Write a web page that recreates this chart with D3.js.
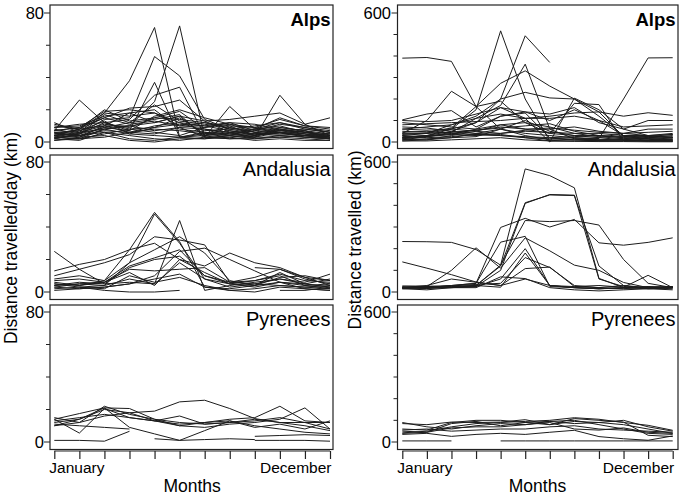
<!DOCTYPE html>
<html><head><meta charset="utf-8">
<script src="https://cdn.jsdelivr.net/npm/d3@7"></script>
<style>body{margin:0;background:#fff}svg{display:block}text{font-family:"Liberation Sans",Arial,sans-serif;fill:#000}</style>
</head><body><svg id="c" width="683" height="497"></svg>
<script>
const months = [1,2,3,4,5,6,7,8,9,10,11,12];
const monthLabels = ["January","December"];
const regions = ["Alps","Andalusia","Pyrenees"];
const yTitles = ["Distance travelled/day (km)","Distance travelled (km)"];
const xTitle = "Months";
const dayMax = 80, totMax = 600;
const _ = null;

const alpsDay = [
 [5,8,18,38,71,3,6,4,8,6,4,3],
 [3,6,10,10,25,72,3,5,3,9,7,2],
 [4,5,14,15,53,41,14,8,5,6,5,3],
 [6,4,9,7,37,3,5,10,4,7,6,4],
 [2,5,12,14,29,34,4,9,6,8,5,2],
 [7,9,15,21,22,26,13,6,8,12,9,6],
 [7,26,12,8,9,11,10,7,5,4,3,2],
 [3,2,8,5,4,3,4,6,3,29,11,4],
 [4,6,8,10,7,9,3,22,8,10,6,3],
 [9,10,16,18,12,16,13,14,16,18,11,15],
 [10,8,20,13,15,14,12,10,9,14,10,8],
 [12,6,18,16,18,12,10,12,7,11,9,7],
 [2,1,6,2,1,3,2,3,1,2,1,1],
 [1,3,4,1,0,2,2,4,2,3,4,2],
 [5,7,11,9,15,19,8,6,5,5,4,5],
 [3,4,7,6,10,12,7,8,10,12,8,6],
 [8,5,17,12,23,13,11,9,6,7,5,4],
 [4,3,10,18,20,8,6,5,7,9,7,5],
 [6,7,13,5,9,15,5,7,4,6,3,2],
 [11,8,15,11,13,10,12,8,8,15,10,9],
 [2,5,9,12,14,17,3,2,3,3,2,1],
 [3,2,5,8,6,4,9,11,6,5,7,3],
 [5,4,6,4,2,1,3,2,2,4,3,2],
 [7,9,19,20,18,10,9,12,11,8,6,5],
 [1,2,3,6,8,7,5,4,3,6,4,2],
 [9,11,12,7,16,20,15,11,9,7,8,6],
 [4,8,10,6,5,9,8,5,4,8,6,4],
 [6,3,8,10,12,16,4,3,5,6,4,3]
];
const alpsTot = [
 [390,393,375,165,60,40,30,20,16,200,391,392],
 [30,40,60,150,517,200,5,15,10,8,6,5],
 [20,30,50,90,200,494,370,_,_,_,_,_],
 [10,25,45,110,170,362,60,15,8,10,5,3],
 [50,45,65,165,273,331,260,200,120,30,25,20],
 [35,40,80,120,200,231,205,200,140,25,15,10],
 [103,130,146,70,120,140,100,150,100,30,20,25],
 [40,100,236,165,190,90,40,180,174,5,8,6],
 [60,70,80,110,130,110,120,135,140,120,136,124],
 [100,95,100,130,160,140,130,160,90,60,100,100],
 [80,85,90,95,100,110,110,120,100,70,75,80],
 [20,30,60,90,160,110,0,204,150,60,30,20],
 [10,15,20,40,60,100,50,30,20,10,8,10],
 [5,10,30,50,80,90,70,40,25,15,10,20],
 [60,55,60,50,40,50,45,40,40,30,30,35],
 [30,20,25,35,30,25,20,25,30,20,15,10],
 [15,10,20,25,60,30,10,10,5,5,3,5],
 [45,50,40,55,70,60,65,55,45,40,45,50],
 [70,65,50,40,35,20,5,5,8,10,20,30],
 [20,25,35,60,120,135,20,10,20,40,60,60],
 [5,5,10,15,20,10,5,3,2,2,1,1],
 [25,30,35,30,40,55,60,70,50,40,30,20],
 [40,40,45,55,65,75,85,50,30,20,15,15],
 [15,25,40,35,30,20,15,20,10,15,25,35],
 [90,80,70,60,80,60,40,30,30,25,30,40]
];
const andDay = [
 [25,14,5,6,5,18,8,3,5,4,3,4],
 [6,4,7,26,49,31,3,2,4,6,5,3],
 [3,5,4,18,48,30,8,5,7,10,4,2],
 [5,3,4,8,5,44,1,4,6,8,5,3],
 [10,14,18,23,34,32,29,6,9,14,8,5],
 [13,17,20,26,30,20,16,24,18,15,9,4],
 [8,10,7,18,26,34,24,7,4,9,10,7],
 [4,6,5,15,20,22,10,5,4,12,5,8],
 [_,3,1,0,0,1,_,_,_,_,_,_],
 [2,3,2,10,6,9,4,1,0,3,2,1],
 [4,5,6,12,4,20,12,5,3,6,4,5],
 [7,8,6,16,21,26,10,6,5,8,6,11],
 [_,_,_,_,_,_,_,_,15,14,9,7],
 [_,_,_,_,_,_,_,_,_,1,1,3],
 [5,4,6,14,13,14,15,6,7,11,7,6],
 [1,2,3,5,8,11,3,1,2,4,3,2],
 [3,2,3,5,10,25,27,20,13,6,2,1]
];
const andTot = [
 [20,25,20,30,124,568,537,481,63,20,25,20],
 [18,20,22,25,100,409,450,447,60,25,20,25],
 [22,18,25,30,120,412,448,445,120,30,15,20],
 [233,232,229,196,124,330,325,330,309,150,40,20],
 [20,25,30,40,298,340,300,335,227,216,229,250],
 [139,110,80,46,30,60,30,20,15,20,15,20],
 [20,25,100,204,110,250,190,124,100,44,20,15],
 [15,20,30,40,230,257,25,20,15,20,18,22],
 [18,16,20,25,60,200,30,20,15,18,20,25],
 [25,22,28,35,40,159,113,30,20,15,25,20],
 [20,30,60,45,30,108,115,25,30,22,77,20],
 [15,10,20,20,70,62,20,10,5,10,15,10],
 [28,27,25,30,22,180,30,25,20,30,20,25]
];
const pyrDay = [
 [14,17.5,21,20.6,14,12,11,12,13,15,12,8],
 [10,14,21,9,5,1,7,13,10,8,6,5],
 [12,14,20,18,19,24.7,25.7,20.6,14.4,12,10,7],
 [13,15,17,15,13,11,12,14,15,22,13,12],
 [15,12,22,17,14,10,9,11,12,14,21,8],
 [1,1,0.5,6.6,_,_,_,_,_,_,_,_],
 [_,_,_,_,2,1,1.5,2,1.5,_,_,_],
 [_,_,_,_,_,_,_,_,1,1,1,0.5],
 [_,_,_,_,_,_,_,_,3.5,4,4.5,4],
 [11,10,9,8,_,_,_,_,_,_,_,_],
 [14,5.5,20.6,15,13,10,12,13,9,11,8,13],
 [10,12,16,18,13,16,11,12,14,12,12,12]
];
const pyrTot = [
 [85,80,92,90,92,103,80,108,100,92,31,25],
 [42,50,70,85,90,95,100,112,105,90,77,54],
 [35,40,26,35,40,35,45,54,25,15,8,28],
 [90,70,60,75,85,80,90,60,55,65,45,40],
 [50,45,85,95,75,90,95,85,90,100,70,50],
 [5,5,5,_,_,_,_,_,_,_,_,_],
 [_,_,_,_,5,5,5,5,5,5,5,5],
 [60,55,90,100,100,90,80,95,90,80,60,40],
 [40,45,65,70,70,80,95,100,80,60,40,35],
 [55,60,50,55,60,60,70,75,60,55,50,45]
];

const svg = d3.select("#c");
const cols = [
  {frameL:50, frameR:333, x0:54.3, x1:330, max:dayMax, minor:20, data:[alpsDay,andDay,pyrDay], tickLabX:44, title:yTitles[0], titleX:16.5, titleY:238},
  {frameL:397.5, frameR:678, x0:402.3, x1:672.7, max:totMax, minor:100, data:[alpsTot,andTot,pyrTot], tickLabX:391, title:yTitles[1], titleX:361, titleY:240}
];
const rows = [{top:5,bottom:148.5,yTop:13,y0:142},{top:155,bottom:299.5,yTop:162,y0:292},{top:305,bottom:449.5,yTop:312,y0:442}];

cols.forEach((c,ci)=>{
  const x = d3.scaleLinear().domain([1,12]).range([c.x0,c.x1]);
  rows.forEach((r,ri)=>{
    const y = d3.scaleLinear().domain([0,c.max]).range([r.y0,r.yTop]);
    const g = svg.append("g");
    g.append("rect").attr("x",c.frameL).attr("y",r.top).attr("width",c.frameR-c.frameL).attr("height",r.bottom-r.top)
      .attr("fill","none").attr("stroke","#222").attr("stroke-width",1.2);
    const ticks = d3.range(0,c.max+1,c.minor);
    ticks.forEach(t=>{
      const major = (t===0||t===c.max);
      g.append("line").attr("x1",c.frameL-(major?6:4)).attr("x2",c.frameL).attr("y1",y(t)).attr("y2",y(t))
        .attr("stroke","#222").attr("stroke-width",1);
    });
    [0,c.max].forEach(t=>{
      g.append("text").attr("x",c.tickLabX).attr("y",y(t)).attr("dy","0.36em").attr("text-anchor","end")
        .style("font-size","16.5px").text(t);
    });
    const line = d3.line().defined(d=>d[1]!=null).x(d=>x(d[0])).y(d=>y(d[1]));
    c.data[ri].forEach(s=>{
      g.append("path").datum(months.map((m,i)=>[m,s[i]])).attr("d",line)
        .attr("fill","none").attr("stroke","#1c1c1c").attr("stroke-width",1).attr("stroke-linejoin","round");
    });
    g.append("text").attr("x",c.frameR-2.5).attr("y",r.top+21).attr("text-anchor","end")
      .style("font-size", ri===0?"18.5px":"20px").style("font-weight", ri===0?"bold":"normal").text(regions[ri]);
  });
  const ax = svg.append("g").attr("transform","translate(0,451)")
    .call(d3.axisBottom(x).tickValues(months).tickSize(8).tickFormat(""));
  ax.selectAll("path,line").attr("stroke","#222").attr("stroke-width",1.2);
  ax.select(".domain").attr("d",`M${c.x0},0H${c.x1}`);
  svg.append("text").attr("x",c.x0-5).attr("y",473).style("font-size","15.5px").text(monthLabels[0]);
  svg.append("text").attr("x",c.x1+1.5).attr("y",473).attr("text-anchor","end").style("font-size","15.5px").text(monthLabels[1]);
  svg.append("text").attr("x",(c.x0+c.x1)/2).attr("y",492).attr("text-anchor","middle").style("font-size","17.5px").text(xTitle);
  svg.append("text").attr("transform",`translate(${c.titleX},${c.titleY}) rotate(-90)`).attr("text-anchor","middle")
    .style("font-size","17.5px").text(c.title);
});
</script></body></html>
